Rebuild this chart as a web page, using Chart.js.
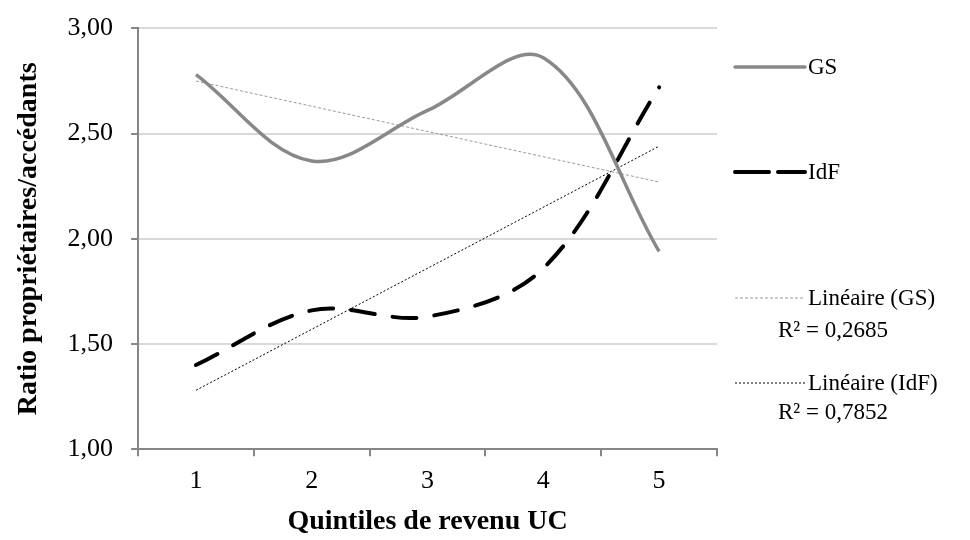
<!DOCTYPE html>
<html>
<head>
<meta charset="utf-8">
<script src="https://cdn.jsdelivr.net/npm/chart.js@4/dist/chart.umd.min.js"></script>
<style>
  body { margin: 0; background: #fff; }
  #wrap { position: relative; width: 970px; height: 540px; }
  #legend { position: absolute; left: 0; top: 0; width: 970px; height: 540px; pointer-events: none;
            font-family: 'Liberation Serif', 'DejaVu Serif', serif; font-size: 23px; color: #000; }
  .item { position: absolute; white-space: nowrap; line-height: 24px; }
</style>
</head>
<body>
<div id="wrap">
  <canvas id="grafico" width="970" height="540"></canvas>
  <div id="legend"></div>
</div>
<script>
// Données
const quintiles = ['1', '2', '3', '4', '5'];
const valeursGS = [2.78, 2.37, 2.61, 2.86, 1.94];
const valeursIdF = [1.40, 1.66, 1.63, 1.86, 2.72];
// courbes de tendance (extrémités seulement)
const tendanceGS = [2.75, null, null, null, 2.27];
const tendanceIdF = [1.28, null, null, null, 2.44];
const r2Labels = ['R² = 0,2685', 'R² = 0,7852'];
const yTicks = [1, 1.5, 2, 2.5, 3];

const police = "'Liberation Serif', 'DejaVu Serif', serif";

const data = {
    labels: quintiles,
    datasets: [{
        label: 'GS',
        data: valeursGS,
        borderColor: '#888888',
        borderWidth: 3.5,
        tension: 0.35,
        pointRadius: 0
    }, {
        label: 'IdF',
        data: valeursIdF,
        borderColor: '#000000',
        borderWidth: 4,
        borderDash: [24, 18],
        borderCapStyle: 'round',
        tension: 0.35,
        pointRadius: 0
    }, {
        label: 'Linéaire (GS)',
        data: tendanceGS,
        borderColor: '#9a9a9a',
        borderWidth: 1,
        borderDash: [3, 2],
        spanGaps: true,
        tension: 0,
        pointRadius: 0
    }, {
        label: 'Linéaire (IdF)',
        data: tendanceIdF,
        borderColor: '#000000',
        borderWidth: 1,
        borderDash: [2, 2],
        spanGaps: true,
        tension: 0,
        pointRadius: 0
    }]
};

const ctx = document.getElementById('grafico').getContext('2d');
new Chart(ctx, {
    type: 'line',
    data: data,
    options: {
        responsive: false,
        animation: false,
        layout: { padding: { left: 8, right: 253, top: 26, bottom: 1 } },
        plugins: { legend: { display: false }, tooltip: { enabled: false } },
        scales: {
            x: {
                offset: true,
                border: { color: '#868686', width: 2 },
                grid: { offset: true, drawOnChartArea: false, drawTicks: true, tickLength: 7, tickColor: '#868686', lineWidth: 2 },
                ticks: { color: '#000', font: { family: police, size: 26 }, padding: 9 },
                title: { display: true, text: 'Quintiles de revenu UC', color: '#000',
                         font: { family: police, size: 28, weight: 'bold' }, padding: { top: 0, bottom: 0 } }
            },
            y: {
                min: 1, max: 3,
                afterBuildTicks: (axis) => { axis.ticks = yTicks.map(v => ({ value: v })); },
                border: { color: '#868686', width: 2 },
                grid: { color: (c) => c.tick && c.tick.value === 1 ? 'rgba(0,0,0,0)' : '#d9d9d9', lineWidth: 2,
                        drawTicks: true, tickLength: 7, tickColor: '#868686' },
                ticks: { color: '#000', font: { family: police, size: 26, lineHeight: 0.8 }, padding: 18,
                         callback: (v) => Number(v).toFixed(2).replace('.', ',') },
                title: { display: true, text: 'Ratio propriétaires/accédants', color: '#000',
                         font: { family: police, size: 28, weight: 'bold' }, padding: { top: 4, bottom: 4 } }
            }
        }
    }
});

// Légende à droite
const legende = [
    { texte: 'GS', y: 67, couleur: '#888888', largeur: 3.5, dash: '' },
    { texte: 'IdF', y: 172, couleur: '#000000', largeur: 4, dash: '34 9' },
    { texte: 'Linéaire (GS)', y: 298, couleur: '#9a9a9a', largeur: 1, dash: '3 2', r2: r2Labels[0], ry: 330 },
    { texte: 'Linéaire (IdF)', y: 383, couleur: '#000000', largeur: 1, dash: '2 2', r2: r2Labels[1], ry: 412 }
];
const leg = document.getElementById('legend');
legende.forEach(function (l) {
    const d = document.createElement('div');
    d.className = 'item';
    d.style.left = '808px';
    d.style.top = (l.y - 12) + 'px';
    d.textContent = l.texte;
    leg.appendChild(d);
    const svg = document.createElementNS('http://www.w3.org/2000/svg', 'svg');
    svg.setAttribute('width', 80); svg.setAttribute('height', 10);
    svg.style.position = 'absolute';
    svg.style.left = '733px'; svg.style.top = (l.y - 5) + 'px';
    const ln = document.createElementNS('http://www.w3.org/2000/svg', 'line');
    ln.setAttribute('x1', 2); ln.setAttribute('x2', 72);
    ln.setAttribute('y1', 5); ln.setAttribute('y2', 5);
    ln.setAttribute('stroke', l.couleur); ln.setAttribute('stroke-width', l.largeur);
    if (l.dash) ln.setAttribute('stroke-dasharray', l.dash);
    if (l.largeur > 2) ln.setAttribute('stroke-linecap', 'round');
    svg.appendChild(ln);
    leg.appendChild(svg);
    if (l.r2) {
        const r = document.createElement('div');
        r.className = 'item';
        r.style.left = '778px';
        r.style.top = (l.ry - 12) + 'px';
        r.textContent = l.r2;
        leg.appendChild(r);
    }
});
</script>
</body>
</html>
